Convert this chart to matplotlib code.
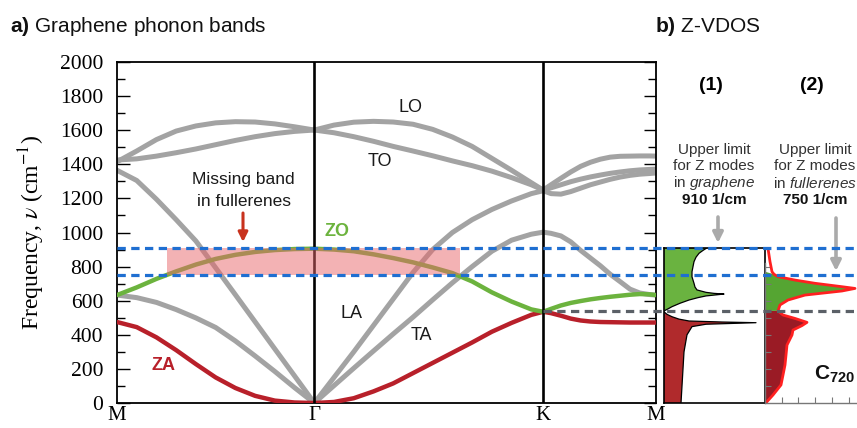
import numpy as np
import matplotlib
matplotlib.use("Agg")
import matplotlib.pyplot as plt
import matplotlib.transforms as mtrans
from matplotlib.lines import Line2D
from matplotlib.patches import Rectangle

plt.rcParams['mathtext.fontset'] = 'custom'
plt.rcParams['mathtext.rm'] = 'Liberation Sans'
plt.rcParams['mathtext.it'] = 'Liberation Sans:italic'
plt.rcParams['mathtext.bf'] = 'Liberation Sans:bold'
plt.rcParams['font.family'] = ['Liberation Sans', 'DejaVu Sans']

# ---------------- data ----------------
sym_labels = ['M', 'Γ', 'K', 'M']
sym_k = [0.0, 1.0, 2.16, 2.732]

k_MG = [0.0, 0.1, 0.2, 0.3, 0.4, 0.5, 0.6, 0.7, 0.8, 0.9, 1.0]
k_GK = [1.0, 1.1, 1.2, 1.3, 1.4, 1.5, 1.6, 1.7, 1.8, 1.9, 2.0, 2.1, 2.16]
k_KM = [2.16, 2.2, 2.25, 2.3, 2.35, 2.4, 2.45, 2.5, 2.55, 2.6, 2.65, 2.7, 2.732]

ZA_MG = [475, 445, 385, 310, 228, 150, 88, 42, 14, 3, 0]
ZA_GK = [0, 6, 28, 68, 115, 175, 235, 295, 355, 418, 470, 517, 535]
ZA_KM = [535, 527, 512, 495, 484, 478, 475, 474, 473, 472, 472, 472, 472]

ZO_MG = [633, 678, 728, 772, 812, 845, 869, 886, 897, 903, 905]
ZO_GK = [905, 900, 890, 872, 850, 825, 795, 762, 713, 649, 595, 549, 535]
ZO_KM = [535, 552, 572, 587, 598, 608, 616, 623, 629, 635, 639, 637, 633]

TA_MG = [633, 618, 590, 548, 499, 443, 364, 276, 185, 90, 0]
TA_GK = [0, 102, 204, 305, 405, 503, 605, 705, 800, 890, 955, 990, 1002]
TA_KM = [1002, 995, 980, 945, 895, 850, 805, 755, 712, 668, 645, 636, 633]

LA_MG = [1365, 1305, 1195, 1075, 950, 793, 635, 476, 317, 159, 0]
LA_GK = [0, 150, 300, 455, 610, 765, 900, 1000, 1075, 1135, 1185, 1228, 1245]
LA_KM = [1245, 1228, 1225, 1240, 1260, 1280, 1296, 1312, 1325, 1335, 1342, 1346, 1349]

LO_MG = [1415, 1478, 1545, 1595, 1625, 1643, 1650, 1648, 1637, 1620, 1601]
LO_GK = [1601, 1630, 1647, 1652, 1648, 1635, 1605, 1560, 1505, 1435, 1365, 1292, 1249]
LO_KM = [1249, 1280, 1318, 1355, 1388, 1412, 1430, 1442, 1447, 1448, 1449, 1449, 1448]

TO_MG = [1425, 1432, 1448, 1468, 1490, 1515, 1540, 1562, 1580, 1593, 1601]
TO_GK = [1601, 1585, 1562, 1535, 1505, 1478, 1450, 1420, 1392, 1360, 1322, 1280, 1249]
TO_KM = [1249, 1262, 1280, 1298, 1313, 1326, 1337, 1347, 1355, 1362, 1367, 1370, 1372]

z_limits = [910, 750]          # upper limits of Z modes: graphene, fullerenes
dirac_level = 540              # ZA/ZO degeneracy at K
missing_k = [0.253, 1.738]     # k-range of the "missing band"

# Z-VDOS (1) graphene
v1_f_za = [0, 100, 200, 300, 400, 448, 462, 471, 475, 481, 492, 506, 520, 535]
v1_za = [17, 18, 19, 20, 23, 28, 42, 92, 58, 25, 15, 8, 3, 0]
v1_f_zo = [540, 552, 565, 585, 604, 618, 628, 636, 639, 643, 649, 663, 680, 702,
           740, 770, 800, 829, 855, 878, 895, 910]
v1_zo = [0, 4, 8, 16, 25, 34, 42, 55, 60, 50, 42, 33, 31, 30,
         28, 28, 29, 30, 32, 35, 39, 43]

# Z-VDOS (2) C720
v2_f = [0, 8, 47, 106, 164, 223, 281, 340, 399, 428, 454, 473, 496, 516, 540,
        575, 604, 633, 657, 672, 682, 702, 721, 741, 755, 770, 829, 907]
v2 = [1, 2, 8, 16, 18, 20, 21, 22, 27, 28, 37, 42, 30, 18, 13,
      15, 23, 40, 77, 90, 77, 50, 30, 13, 9, 7, 5, 3]

# ---------------- figure ----------------
W, H = 857, 428
fig = plt.figure(figsize=(W / 100, H / 100), dpi=100)

def fx(px):
    return px / W

def fy(py):
    return 1 - py / H

ax = fig.add_axes([117 / W, 25 / H, 539 / W, 341 / H])
ax.set_xlim(sym_k[0], sym_k[-1])
ax.set_ylim(0, 2000)

gray = '#a3a3a3'
for kk, segs in [(k_MG, [TA_MG, LA_MG, LO_MG, TO_MG]),
                 (k_GK, [TA_GK, LA_GK, LO_GK, TO_GK]),
                 (k_KM, [TA_KM, LA_KM, LO_KM, TO_KM])]:
    for s in segs:
        ax.plot(kk, s, color=gray, lw=3.6, solid_capstyle='round',
                solid_joinstyle='round', zorder=2)

for kk, s in [(k_MG, ZA_MG), (k_GK, ZA_GK), (k_KM, ZA_KM)]:
    ax.plot(kk, s, color='#b8202a', lw=3.2, solid_capstyle='round',
            solid_joinstyle='round', zorder=3)
for kk, s in [(k_MG, ZO_MG), (k_GK, ZO_GK), (k_KM, ZO_KM)]:
    ax.plot(kk, s, color='#6cb33e', lw=3.2, solid_capstyle='round',
            solid_joinstyle='round', zorder=3)

for k in sym_k[1:3]:
    ax.axvline(k, color='black', lw=1.9, zorder=4)

ax.add_patch(Rectangle((missing_k[0], z_limits[1]), missing_k[1] - missing_k[0],
                       z_limits[0] - z_limits[1], facecolor='#e8666a',
                       alpha=0.5, edgecolor='none', zorder=5))

ax.set_yticks(np.arange(0, 2001, 200))
ax.set_yticks(np.arange(0, 2001, 100), minor=True)
ax.tick_params(axis='y', which='both', direction='in', left=True, right=True,
               width=1.0, labelsize=15.5, pad=10)
ax.tick_params(axis='y', which='major', length=9)
ax.tick_params(axis='y', which='minor', length=6)
ax.set_xticks(sym_k)
ax.set_xticklabels(sym_labels)
ax.tick_params(axis='x', length=0, labelsize=15, pad=2)
for lbl in ax.get_yticklabels() + ax.get_xticklabels():
    lbl.set_family('Liberation Serif')
for sp in ax.spines.values():
    sp.set_linewidth(1.3)
ax.set_ylabel(r'Frequency, $\nu$ (cm$^{-1}$)', fontsize=17,
              family='Liberation Serif', math_fontfamily='stix', labelpad=9)

# band labels
txtc = '#1a1a1a'
fig.text(fx(411), fy(107), 'LO', fontsize=13, ha='center', va='center', color=txtc)
fig.text(fx(380), fy(162), 'TO', fontsize=13, ha='center', va='center', color=txtc)
fig.text(fx(351), fy(314), 'LA', fontsize=13, ha='center', va='center', color=txtc)
fig.text(fx(421), fy(335), 'TA', fontsize=13, ha='center', va='center', color=txtc)
fig.text(fx(337), fy(232), 'ZO', fontsize=13, ha='center', va='center',
         color='#6cb33e', fontweight='bold')
fig.text(fx(164), fy(366), 'ZA', fontsize=13, ha='center', va='center',
         color='#b8202a', fontweight='bold')
fig.text(fx(243), fy(180), 'Missing band', fontsize=12.5, ha='center', va='center', color=txtc)
fig.text(fx(244), fy(201), 'in fullerenes', fontsize=12.5, ha='center', va='center', color=txtc)
ax.annotate('', xy=(fx(243), fy(242)), xycoords='figure fraction',
            xytext=(fx(243), fy(213)), textcoords='figure fraction',
            arrowprops=dict(arrowstyle='-|>', color='#c8321e', lw=2.2,
                            mutation_scale=14, shrinkA=0, shrinkB=0))

# titles
fig.text(fx(10), fy(32), r'$\mathbf{a)}$ Graphene phonon bands', fontsize=15,
         va='baseline', color='#111111')
fig.text(fx(655), fy(32), r'$\mathbf{b)}$ Z-VDOS', fontsize=15,
         va='baseline', color='#111111')

# ---------------- VDOS (1) ----------------
ax1 = fig.add_axes([664 / W, 25 / H, 101 / W, 341 / H * z_limits[0] / 2000])
ax1.set_ylim(0, z_limits[0])
ax1.set_xlim(0, 101)
ax1.fill_betweenx(v1_f_za, 0, v1_za, facecolor='#b02a2c', edgecolor='none', zorder=1)
ax1.fill_betweenx(v1_f_zo, 0, v1_zo, facecolor='#6ab340', edgecolor='none', zorder=1)
ax1.plot(v1_za, v1_f_za, color='black', lw=0.9, zorder=2)
ax1.plot(v1_zo, v1_f_zo, color='black', lw=0.9, zorder=2)
ax1.set_xticks([])
ax1.set_yticks([])
for sp in ax1.spines.values():
    sp.set_linewidth(1.2)

# ---------------- VDOS (2) ----------------
ax2 = fig.add_axes([765 / W, 25 / H, 92 / W, 341 / H])
ax2.set_ylim(0, 2000)
ax2.set_xlim(0, 92)
ax2.patch.set_alpha(0)
f2 = np.array(v2_f)
d2 = np.array(v2)
ax2.fill_betweenx(f2, 0, d2, where=f2 <= dirac_level, facecolor='#9a1b25',
                  edgecolor='none', interpolate=True, zorder=1)
ax2.fill_betweenx(f2, 0, d2, where=(f2 >= dirac_level) & (f2 <= 755),
                  facecolor='#55a532', edgecolor='none', interpolate=True, zorder=1)
ax2.plot(d2, f2, color='#ff2020', lw=2.0, zorder=2, solid_capstyle='round')
for s in ['top', 'right']:
    ax2.spines[s].set_visible(False)
ax2.spines['left'].set_bounds(0, 820)
for s in ['left', 'bottom']:
    ax2.spines[s].set_color('#777777')
    ax2.spines[s].set_linewidth(1.0)
ax2.set_yticks(np.arange(100, 900, 100))
ax2.set_xticks(np.arange(1, 6) * 16.7)
ax2.tick_params(which='both', direction='in', length=4, color='#777777',
                labelleft=False, labelbottom=False)

fig.text(fx(814), fy(380), r'$\mathbf{C}_{\mathbf{720}}$', fontsize=15,
         va='baseline', ha='left', color='#111111')

# panel b texts
fig.text(fx(711), fy(85), '(1)', fontsize=14, fontweight='bold', ha='center', va='center')
fig.text(fx(812), fy(85), '(2)', fontsize=14, fontweight='bold', ha='center', va='center')
lc = '#333333'
for cx, mat, val in [(714, 'graphene', '910 1/cm'), (815, 'fullerenes', '750 1/cm')]:
    fig.text(fx(cx), fy(150), 'Upper limit', fontsize=11, ha='center', va='center', color=lc)
    fig.text(fx(cx), fy(166), 'for Z modes', fontsize=11, ha='center', va='center', color=lc)
    fig.text(fx(cx), fy(183), r'in $\mathit{' + mat + '}$', fontsize=11,
             ha='center', va='center', color=lc)
    fig.text(fx(cx), fy(200), val, fontsize=11, ha='center', va='center',
             fontweight='bold', color='#111111')
for x0, y0, y1 in [(718, 217, 243), (836, 218, 271)]:
    ax.annotate('', xy=(fx(x0), fy(y1)), xycoords='figure fraction',
                xytext=(fx(x0), fy(y0)), textcoords='figure fraction',
                arrowprops=dict(arrowstyle='-|>', color='#aaaaaa', lw=2.6,
                                mutation_scale=15, shrinkA=0, shrinkB=0))

# dashed level lines across panels
blend = mtrans.blended_transform_factory(fig.transFigure, ax.transData)
pos = ax.get_position()
for lev in z_limits:
    fig.add_artist(Line2D([pos.x0, 1.0], [lev, lev], transform=blend,
                          color='#1f6fd1', lw=2.3, dashes=(2.6, 1.7), zorder=20))
xK = pos.x0 + pos.width * (sym_k[2] - sym_k[0]) / (sym_k[-1] - sym_k[0])
fig.add_artist(Line2D([xK, 1.0], [dirac_level, dirac_level], transform=blend,
                      color='#5b6067', lw=2.3, dashes=(2.6, 1.7), zorder=19))

fig.savefig('out.png', dpi=100)
